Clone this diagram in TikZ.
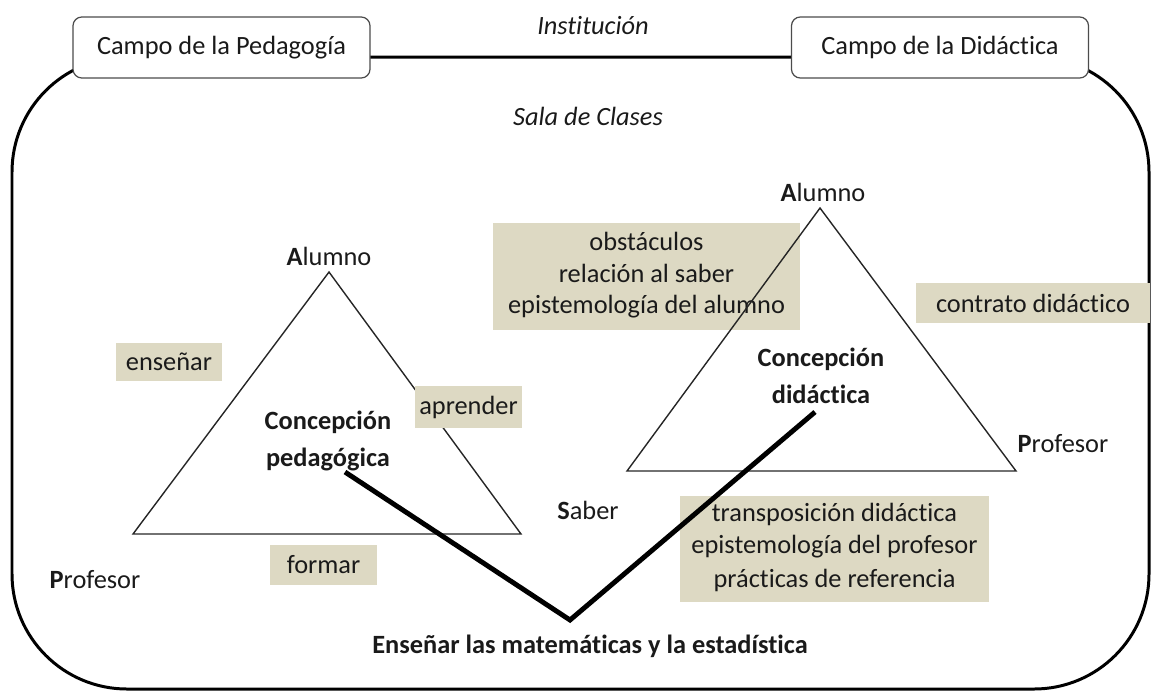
\documentclass[tikz,border=0pt]{standalone}
\usepackage{fontspec}
\setmainfont{Carlito}[Ligatures=NoCommon]
\definecolor{tan}{HTML}{DDD9C3}
\definecolor{txt}{HTML}{1A1A1A}
\begin{document}
\begin{tikzpicture}[x=0.2mm,y=-0.2mm,
  every node/.style={font=\fontsize{15}{18}\selectfont,text=txt,inner sep=0pt,align=center},
  fieldbox/.style={draw=black!70,line width=0.7pt,fill=white,rounded corners=5pt,minimum width=59.4mm,minimum height=12.2mm},
  tanbox/.style={fill=tan},
  tri/.style={draw=black!85,line width=0.8pt},
  vline/.style={draw=black,line width=2.8pt},
  lbl/.style={font=\fontsize{15}{18}\selectfont}
]
\useasboundingbox (0,0) rectangle (1155,693);
% outer room
\draw[line width=1.7pt,rounded corners=23mm] (12,57) rectangle (1149,689);
% field boxes
\node[fieldbox] (ped) at (221.5,47.5) {Campo de la Pedagogía};
\node[fieldbox] (did) at (940,47.5) {Campo de la Didáctica};
\node[font=\fontsize{15}{18}\selectfont\itshape] (inst) at (593,26) {Institución};
\node[font=\fontsize{15}{18}\selectfont\itshape] (sala) at (588,116) {Sala de Clases};
% obstacles box (under right triangle)
\node[tanbox,minimum width=61.4mm,minimum height=21.4mm] (obs) at (646.5,276.5) {};
\node[lbl] at (646.5,241) {obstáculos};
\node[lbl] at (646.5,273) {relación al saber};
\node[lbl] at (646.5,307) {epistemología del alumno};
% triangles
\coordinate (lA) at (329,272);
\coordinate (lP) at (133,534);
\coordinate (lS) at (521,534);
\draw[tri] (lA) -- (lP) -- (lS) -- cycle;
\coordinate (rA) at (820,208);
\coordinate (rS) at (627,471);
\coordinate (rP) at (1016,471);
\draw[tri] (rA) -- (rS) -- (rP) -- cycle;
% tan boxes
\node[tanbox,minimum width=21.2mm,minimum height=7.6mm] (ens) at (169,362) {enseñar};
\node[tanbox,minimum width=21.4mm,minimum height=8.4mm] (apr) at (468.5,407) {aprender};
\node[tanbox,minimum width=21.4mm,minimum height=8mm] (for) at (323.5,565) {formar};
\node[tanbox,minimum width=46.8mm,minimum height=8mm] (con) at (1033,303) {contrato didáctico};
\node[tanbox,minimum width=61.8mm,minimum height=21.2mm] (tra) at (834.5,549) {};
\node[lbl] at (834.5,514) {transposición didáctica};
\node[lbl] at (834.5,547) {epistemología del profesor};
\node[lbl] at (834.5,580) {prácticas de referencia};
% vertex labels
\node (alA) at (329,256) {\textbf{A}lumno};
\node (alP) at (95,580) {\textbf{P}rofesor};
\node (alS) at (588,510) {\textbf{S}aber};
\node (arA) at (823,192) {\textbf{A}lumno};
\node (arP) at (1063,444) {\textbf{P}rofesor};
% conceptions
\node[font=\fontsize{15}{21}\selectfont\bfseries] (cp) at (328,441) {Concepción\\pedagógica};
\node[font=\fontsize{15}{21}\selectfont\bfseries] (cd) at (821,376) {Concepción\\didáctica};
% V line
\coordinate (cpE) at (345,472);
\coordinate (vB) at (570,620);
\coordinate (cdE) at (815,412);
\draw[vline] (cpE) -- (vB) -- (cdE);
\node[font=\fontsize{15}{18}\selectfont\bfseries] (ense) at (590,646) {Enseñar las matemáticas y la estadística};
\end{tikzpicture}
\end{document}
